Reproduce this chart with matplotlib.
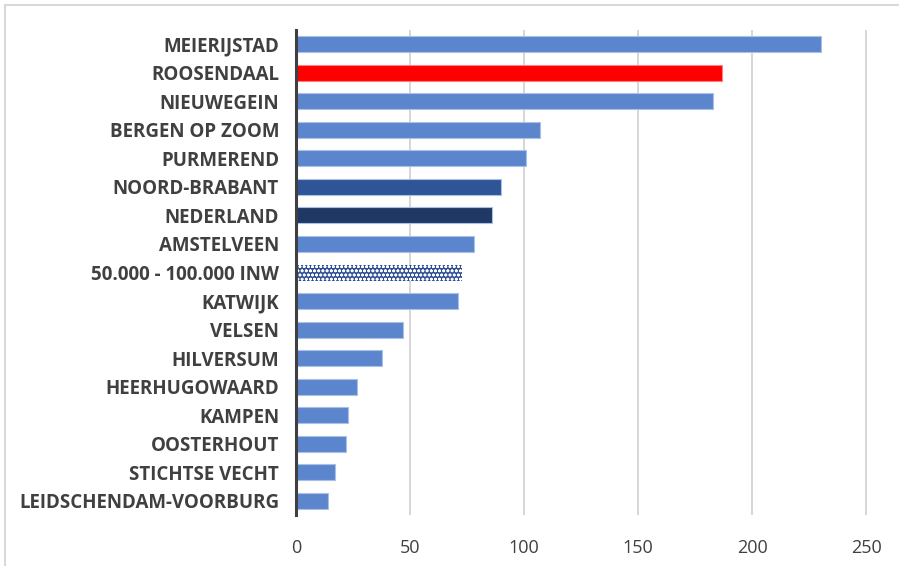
import matplotlib.pyplot as plt
from matplotlib.lines import Line2D

plt.rcParams["hatch.linewidth"] = 0.8

# data, top to bottom as in the chart
labels = [
    "MEIERIJSTAD", "ROOSENDAAL", "NIEUWEGEIN", "BERGEN OP ZOOM", "PURMEREND",
    "NOORD-BRABANT", "NEDERLAND", "AMSTELVEEN", "50.000 - 100.000 INW", "KATWIJK",
    "VELSEN", "HILVERSUM", "HEERHUGOWAARD", "KAMPEN", "OOSTERHOUT",
    "STICHTSE VECHT", "LEIDSCHENDAM-VOORBURG",
]
values = [230, 187, 183, 107, 101, 90, 86, 78, 73, 71, 47, 38, 27, 23, 22, 17, 14]
xticks = [0, 50, 100, 150, 200, 250]

base = "#5B85CC"
special = {
    "ROOSENDAAL": "#FF0000",
    "NOORD-BRABANT": "#2F5597",
    "NEDERLAND": "#1F3864",
    "50.000 - 100.000 INW": "#2E4F95",
}

fig = plt.figure(figsize=(8.99, 5.66), dpi=100)
ax = fig.add_axes([0.329, 0.090, 0.637, 0.857])

ypos = list(range(len(labels)))
colors = [special.get(l, base) for l in labels]
bars = ax.barh(ypos, values, height=0.56, color=colors,
               edgecolor="#A9C0E8", linewidth=0.8, zorder=3)
for b, l in zip(bars, labels):
    if l == "ROOSENDAAL":
        b.set_edgecolor("#FF8080")
    if l == "50.000 - 100.000 INW":
        b.set_hatch("oooo")
        b.set_edgecolor("#FFFFFF")
        b.set_linewidth(0.0)

ax.set_ylim(len(labels) - 0.5, -0.5)
ax.set_xlim(0, 251)
ax.set_xticks(xticks)
ax.set_yticks(ypos)
ax.set_yticklabels(labels, fontsize=13.5, fontweight="bold", color="#404040",
                   family="Open Sans")
for t in ax.get_xticklabels():
    t.set_fontsize(13)
    t.set_color("#404040")
    t.set_family("Open Sans")

ax.grid(axis="x", color="#D0D0D0", linewidth=1.2, zorder=0)
for s in ["top", "right", "bottom"]:
    ax.spines[s].set_visible(False)
ax.spines["left"].set_color("#404040")
ax.spines["left"].set_linewidth(2.2)
ax.spines["left"].set_zorder(4)
ax.tick_params(axis="both", length=0)
ax.tick_params(axis="y", pad=12)
ax.tick_params(axis="x", pad=17)

# light frame (top and left only) around the chart area
fig.add_artist(Line2D([0.006, 0.006], [0.0, 0.992], transform=fig.transFigure,
                      color="#D9D9D9", linewidth=1.5))
fig.add_artist(Line2D([0.006, 1.0], [0.992, 0.992], transform=fig.transFigure,
                      color="#D9D9D9", linewidth=1.5))

fig.savefig("out.png", dpi=100)
